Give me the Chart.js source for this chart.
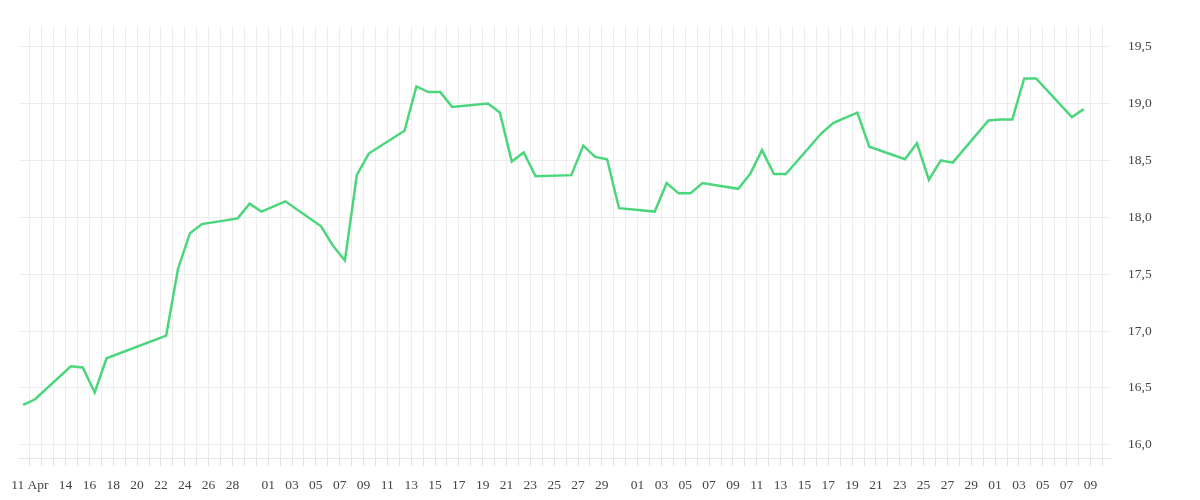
<!DOCTYPE html>
<html><head><meta charset="utf-8">
<script src="https://cdn.jsdelivr.net/npm/chart.js@4"></script>
<style>html,body{margin:0;padding:0;background:#fff}#w{width:1200px;height:500px}</style>
</head><body><div id="w"><canvas id="c"></canvas></div>
<script>
// days since first observation
const days = [0,1,4,5,6,7,12,13,14,15,18,19,20,22,25,26,27,28,29,32,33,34,35,36,39,40,41,42,43,46,47,48,49,50,53,54,55,56,57,60,61,62,63,64,67,68,70,71,74,75,76,77,78,81,82,83,84,85,88,89];
const values = [16.35,16.40,16.69,16.68,16.46,16.76,16.96,17.55,17.86,17.94,17.99,18.12,18.05,18.14,17.92,17.75,17.62,18.37,18.56,18.76,19.15,19.10,19.10,18.97,19.00,18.92,18.49,18.57,18.36,18.37,18.63,18.53,18.51,18.08,18.05,18.30,18.21,18.21,18.30,18.25,18.38,18.59,18.38,18.38,18.74,18.83,18.92,18.62,18.51,18.65,18.33,18.50,18.48,18.85,18.86,18.86,19.22,19.22,18.88,18.95];
// tick labels: day index from 11 Apr -> label
const tickDays = [0,3,5,7,9,11,13,15,17,20,22,24,26,28,30,32,34,36,38,40,42,44,46,48,51,53,55,57,59,61,63,65,67,69,71,73,75,77,79,81,83,85,87,89];
const tickLabels = ['11 Apr','14','16','18','20','22','24','26','28','01','03','05','07','09','11','13','15','17','19','21','23','25','27','29','01','03','05','07','09','11','13','15','17','19','21','23','25','27','29','01','03','05','07','09'];
const yTicks = [16.0,16.5,17.0,17.5,18.0,18.5,19.0,19.5];
const OFF = 0.56; // 11 Apr position relative to first point
const labelMap = {};
tickDays.forEach((d,i)=>labelMap[d]=tickLabels[i]);
const font = {family:'"Liberation Serif", "DejaVu Serif", serif', size:13.5};
new Chart(document.getElementById('c'),{
  type:'line',
  data:{datasets:[{data:days.map((d,i)=>({x:d,y:values[i]})),borderColor:'#4cd67c',borderWidth:2.5,pointRadius:0,tension:0,fill:false}]},
  options:{
    responsive:true,maintainAspectRatio:false,animation:false,
    layout:{padding:{left:15,top:-6,right:0,bottom:0}},
    plugins:{legend:{display:false},tooltip:{enabled:false}},
    scales:{
      x:{type:'linear',min:-0.36,max:91.2,
        afterBuildTicks:s=>{const t=[];for(let k=-0;k<=90;k++)t.push({value:k+OFF});s.ticks=t;},
        afterFit:s=>{s.height=42;},
        grid:{color:'#ececec',tickLength:8,tickColor:'#e0e0e0'},
        border:{color:'#e6e6e6'},
        ticks:{autoSkip:false,maxRotation:0,color:'#444',font:font,padding:11,
          callback:(v)=>{const k=Math.round(v-OFF);return labelMap[k]!==undefined?labelMap[k]:'';}}
      },
      y:{position:'right',min:15.884,max:19.68,
        afterBuildTicks:s=>{s.ticks=yTicks.map(v=>({value:v}));},
        afterFit:s=>{s.width=90;},
        grid:{color:'#ececec',drawTicks:false},
        border:{display:false},
        ticks:{color:'#444',font:font,padding:18,
          callback:v=>v.toFixed(1).replace('.',','),crossAlign:'near'}
      }
    }
  }
});
</script></body></html>
